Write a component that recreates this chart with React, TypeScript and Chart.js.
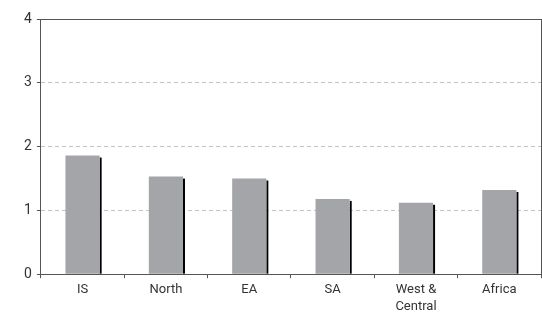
import React, { useEffect, useRef } from "react";
import { Chart, registerables } from "chart.js";

Chart.register(...registerables);

const categories: (string | string[])[] = ["IS", "North", "EA", "SA", ["West &", "Central"], "Africa"];
const values: number[] = [1.86, 1.53, 1.5, 1.18, 1.12, 1.32];
const yTicks: number[] = [0, 1, 2, 3, 4];

const FONT = "Roboto, 'Liberation Sans', sans-serif";

const framePlugin = {
  id: "frame",
  beforeDatasetsDraw(chart: any) {
    const { ctx } = chart;
    const meta = chart.getDatasetMeta(0);
    ctx.save();
    ctx.fillStyle = "#000";
    meta.data.forEach((el: any) => {
      const p = el.getProps(["x", "y", "base", "width"], true);
      const right = p.x + p.width / 2;
      ctx.fillRect(right, p.y + 2, 2, p.base - p.y - 2);
    });
    ctx.restore();
  },
  afterDraw(chart: any) {
    const { ctx, chartArea } = chart;
    ctx.save();
    ctx.strokeStyle = "#555";
    ctx.lineWidth = 1;
    ctx.beginPath();
    ctx.moveTo(chartArea.left, Math.round(chartArea.top) + 0.5);
    ctx.lineTo(chartArea.right, Math.round(chartArea.top) + 0.5);
    ctx.moveTo(Math.round(chartArea.right) + 0.5, chartArea.top);
    ctx.lineTo(Math.round(chartArea.right) + 0.5, chartArea.bottom);
    ctx.stroke();
    ctx.restore();
  },
};

export default function App() {
  const ref = useRef<HTMLCanvasElement | null>(null);
  useEffect(() => {
    if (!ref.current) return;
    const chart = new Chart(ref.current, {
      type: "bar",
      data: {
        labels: categories,
        datasets: [
          {
            data: values,
            backgroundColor: "#a4a5a9",
            borderWidth: 0,
            barPercentage: 0.41,
            categoryPercentage: 1,
          },
        ],
      },
      options: {
        animation: false,
        responsive: false,
        maintainAspectRatio: false,
        layout: { padding: { top: 19, right: 1, left: 19, bottom: 0 } },
        plugins: { legend: { display: false }, tooltip: { enabled: false } },
        scales: {
          x: {
            grid: {
              display: true,
              drawOnChartArea: false,
              drawTicks: true,
              tickLength: 4,
              tickColor: "#555",
              offset: true,
            },
            border: { display: true, color: "#555", width: 1 },
            ticks: {
              color: "#333",
              font: { family: FONT, size: 13, lineHeight: 1.3 },
              padding: 3,
              maxRotation: 0,
              autoSkip: false,
            },
          },
          y: {
            min: 0,
            max: 4,
            afterBuildTicks: (scale: any) => {
              scale.ticks = yTicks.map((v) => ({ value: v }));
            },
            grid: {
              color: (c: any) =>
                c.tick && (c.tick.value === 0 || c.tick.value === 4) ? "rgba(0,0,0,0)" : "#c4c4c4",
              tickColor: "#555",
              tickLength: 4,
              drawTicks: true,
            },
            border: { display: true, color: "#555", width: 1, dash: [4, 3] },
            ticks: {
              color: "#333",
              font: { family: FONT, size: 14 },
              padding: 5,
            },
          },
        },
      },
      plugins: [framePlugin],
    });
    return () => chart.destroy();
  }, []);
  return (
    <div style={{ position: "fixed", left: 0, top: 0, width: 542, height: 318, background: "#fff" }}>
      <canvas ref={ref} width={542} height={318} style={{ width: 542, height: 318 }} />
    </div>
  );
}
